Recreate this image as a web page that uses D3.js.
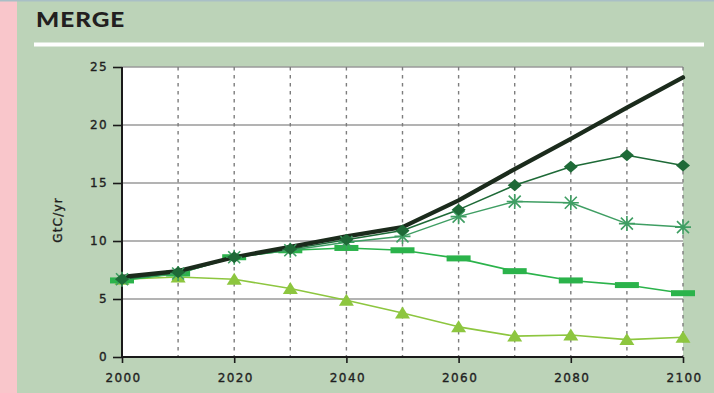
<!DOCTYPE html>
<html>
<head>
<meta charset="utf-8">
<script src="https://cdn.jsdelivr.net/npm/d3@7"></script>
<style>
  html, body { margin: 0; padding: 0; background: #bcd3b8; }
  svg { display: block; }
</style>
</head>
<body>
<svg id="chart" width="714" height="393"></svg>
<script>
// Carbon emission pathways (GtC/yr), MERGE model
const years = [2000, 2010, 2020, 2030, 2040, 2050, 2060, 2070, 2080, 2090, 2100];
const baseline   = [6.9, 7.4, 8.6, 9.5, 10.4, 11.2, 13.5, 16.2, 18.8, 21.5, 24.1];
const diamonds   = [6.7, 7.3, 8.6, 9.3, 10.1, 10.9, 12.7, 14.8, 16.4, 17.4, 16.5];
const asterisks  = [6.7, 7.2, 8.6, 9.2, 9.9, 10.4, 12.1, 13.4, 13.3, 11.5, 11.2];
const rectangles = [6.6, 7.2, 8.6, 9.2, 9.4, 9.2, 8.5, 7.4, 6.6, 6.2, 5.5];
const triangles  = [6.7, 6.9, 6.7, 5.9, 4.9, 3.8, 2.6, 1.8, 1.9, 1.5, 1.7];
const yTicks = [0, 5, 10, 15, 20, 25];
const xTicks = [2000, 2020, 2040, 2060, 2080, 2100];
const gridYears = [2010, 2020, 2030, 2040, 2050, 2060, 2070, 2080, 2090, 2100];

const svg = d3.select("#chart");
const W = 714, H = 393;
const font = "'DejaVu Sans', sans-serif";

// panel background and frame details
svg.append("rect").attr("width", W).attr("height", H).attr("fill", "#bcd3b8");
svg.append("rect").attr("x", 0).attr("y", 0).attr("width", 17).attr("height", H).attr("fill", "#f9c6cb");
svg.append("rect").attr("x", 0).attr("y", 0).attr("width", W).attr("height", 1.5).attr("fill", "#a9bfc6");
svg.append("text").attr("transform", "translate(36,26.5) scale(1.22,1)")
  .attr("font-family", "Lato, sans-serif").attr("font-weight", 900)
  .attr("font-size", 20).attr("letter-spacing", 0.8).attr("fill", "#231f20").text("MERGE");
svg.append("rect").attr("x", 34).attr("y", 42.5).attr("width", 670).attr("height", 4).attr("fill", "#ffffff");

const x = d3.scaleLinear().domain([2000, 2100]).range([122, 683]);
const y = d3.scaleLinear().domain([0, 25]).range([357, 67]);

// plot area
svg.append("rect").attr("x", x(2000)).attr("y", y(25))
  .attr("width", x(2100) - x(2000)).attr("height", y(0) - y(25)).attr("fill", "#ffffff");

// horizontal grid
svg.append("g").selectAll("line").data(yTicks.filter(d => d > 0)).join("line")
  .attr("x1", x(2000)).attr("x2", x(2100))
  .attr("y1", d => y(d)).attr("y2", d => y(d))
  .attr("stroke", "#9a9a9a").attr("stroke-width", 1.4);

// vertical dashed grid
svg.append("g").selectAll("line").data(gridYears).join("line")
  .attr("x1", d => x(d)).attr("x2", d => x(d))
  .attr("y1", y(25)).attr("y2", y(0))
  .attr("stroke", "#7d7d7d").attr("stroke-width", 1.4)
  .attr("stroke-dasharray", "3.5,4.5");

// axes
const yAxis = svg.append("g").attr("transform", `translate(${x(2000)},0)`)
  .call(d3.axisLeft(y).tickValues(yTicks).tickSize(9).tickPadding(5));
const xAxis = svg.append("g").attr("transform", `translate(0,${y(0)})`)
  .call(d3.axisBottom(x).tickValues(xTicks).tickFormat(d3.format("d")).tickSize(6).tickPadding(10));
[yAxis, xAxis].forEach(g => {
  g.select(".domain").attr("stroke", "#1a1a1a").attr("stroke-width", 2);
  g.selectAll(".tick line").attr("stroke", "#1a1a1a").attr("stroke-width", 1.6);
  g.selectAll(".tick text").attr("font-family", font).attr("font-weight", 400)
    .attr("font-size", 12).attr("letter-spacing", 1.4).attr("fill", "#1f1f1f")
    .attr("stroke", "#1f1f1f").attr("stroke-width", 0.35);
});
xAxis.selectAll(".tick text").attr("dx", 1);
yAxis.select(".domain").attr("d", `M0,${y(25)}V${y(0)}`);
xAxis.select(".domain").attr("d", `M${x(2000)},0H${x(2100)}`);

svg.append("text")
  .attr("transform", `translate(62,${(y(0) + y(25)) / 2 + 8}) rotate(-90)`)
  .attr("text-anchor", "middle").attr("font-family", font).attr("font-weight", 400)
  .attr("font-size", 12).attr("letter-spacing", 1.2).attr("fill", "#1f1f1f")
  .attr("stroke", "#1f1f1f").attr("stroke-width", 0.35).text("GtC/yr");

const line = d3.line().x((d, i) => x(years[i])).y(d => y(d));
function path(vals, color, width) {
  svg.append("path").datum(vals).attr("d", line)
    .attr("fill", "none").attr("stroke", color).attr("stroke-width", width)
    .attr("stroke-linejoin", "round").attr("stroke-linecap", "round");
}

const cTri = "#8dc63f", cRect = "#2bb34b", cAst = "#3f9e63", cDia = "#1e6a37", cBase = "#1b2b1c";

// triangles series
path(triangles, cTri, 1.6);
svg.append("g").selectAll("path").data(triangles).join("path")
  .attr("transform", (d, i) => `translate(${x(years[i])},${y(d)})`)
  .attr("d", "M0,-6.5L7.5,5.5L-7.5,5.5Z").attr("fill", cTri);

// rectangles series
path(rectangles, cRect, 1.6);
svg.append("g").selectAll("rect").data(rectangles).join("rect")
  .attr("x", (d, i) => x(years[i]) - 12).attr("y", d => y(d) - 3)
  .attr("width", 24).attr("height", 6).attr("fill", cRect);

// asterisks and diamonds series, with the reference path on top of their lines
path(asterisks, cAst, 1.5);
path(diamonds, cDia, 1.5);
path(baseline, cBase, 4.3);

svg.append("g").selectAll("path").data(asterisks).join("path")
  .attr("transform", (d, i) => `translate(${x(years[i])},${y(d)})`)
  .attr("d", "M-8,0H8M-6,-6L6,6M-6,6L6,-6M0,-7.5V7.5")
  .attr("stroke", cAst).attr("stroke-width", 1.6).attr("fill", "none");

svg.append("g").selectAll("path").data(diamonds).join("path")
  .attr("transform", (d, i) => `translate(${x(years[i])},${y(d)})`)
  .attr("d", "M0,-6L7,0L0,6L-7,0Z").attr("fill", cDia);
</script>
</body>
</html>
